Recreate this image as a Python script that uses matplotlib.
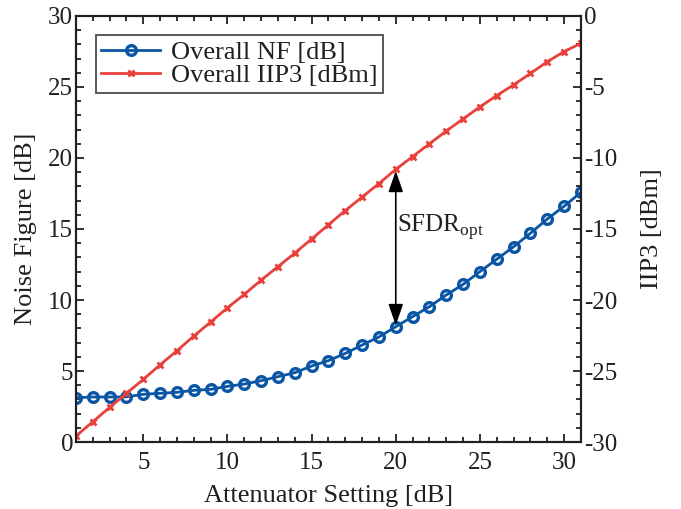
import numpy as np
import matplotlib.pyplot as plt
from matplotlib.ticker import MultipleLocator

plt.rcParams["font.family"] = ["Liberation Serif", "DejaVu Serif"]
plt.rcParams["mathtext.fontset"] = "custom"
plt.rcParams["mathtext.rm"] = "Liberation Serif"
plt.rcParams["axes.unicode_minus"] = False
plt.rcParams["text.color"] = "#231f20"
plt.rcParams["axes.labelcolor"] = "#231f20"

atten = list(range(1, 32))
nf = [3.12, 3.17, 3.17, 3.18, 3.36, 3.43, 3.5, 3.64, 3.71, 3.92,
      4.08, 4.32, 4.6, 4.88, 5.35, 5.73, 6.24, 6.83, 7.4, 8.12,
      8.83, 9.53, 10.35, 11.1, 12.0, 12.87, 13.75, 14.7, 15.7, 16.6, 17.58]
iip3 = [-29.58, -28.57, -27.56, -26.57, -25.59, -24.56, -23.57, -22.54, -21.55, -20.55,
        -19.6, -18.6, -17.65, -16.7, -15.7, -14.7, -13.7, -12.75, -11.8, -10.8,
        -9.9, -9.0, -8.1, -7.25, -6.4, -5.6, -4.85, -4.05, -3.22, -2.51, -1.92]

blue = "#0b56a4"
red = "#e8413c"
dark = "#231f20"

fig = plt.figure(figsize=(6.81, 5.09), dpi=100)
ax = fig.add_axes([0.1116, 0.1316, 0.7414, 0.837])
ax2 = ax.twinx()

l1, = ax.plot(atten, nf, color=blue, lw=2.0, marker="o", ms=7,
              mfc="none", mew=2.4, label="Overall NF [dB]")
l2, = ax2.plot(atten, iip3, color=red, lw=2.0, marker="x", ms=5,
               mew=2.0, label="Overall IIP3 [dBm]")

ax.set_xlim(1, 31)
ax.set_ylim(0, 30)
ax2.set_ylim(-30, 0)

ax.xaxis.set_major_locator(MultipleLocator(5))
ax.xaxis.set_minor_locator(MultipleLocator(1))
ax.yaxis.set_major_locator(MultipleLocator(5))
ax.yaxis.set_minor_locator(MultipleLocator(1))
ax2.yaxis.set_major_locator(MultipleLocator(5))
ax2.yaxis.set_minor_locator(MultipleLocator(1))

for a in (ax, ax2):
    for s in a.spines.values():
        s.set_linewidth(1.5)
        s.set_color(dark)
ax.tick_params(which="both", direction="in", top=True, right=False,
               labelsize=18, width=1.3, color=dark, labelcolor=dark)
ax.tick_params(axis="x", pad=7)
ax.tick_params(axis="y", pad=2)
ax.tick_params(which="major", length=5.5)
ax.tick_params(which="minor", length=3.5)
ax2.tick_params(which="both", direction="in", labelsize=18, width=1.3,
                color=dark, labelcolor=dark, pad=2)
ax2.tick_params(which="major", length=5.5)
ax2.tick_params(which="minor", length=3.5)

ax.set_xlabel("Attenuator Setting [dB]", fontsize=19, labelpad=8)
ax.set_ylabel("Noise Figure [dB]", fontsize=19, labelpad=8)
ax2.set_ylabel("IIP3 [dBm]", fontsize=19, labelpad=17)

# SFDR arrow at attenuator setting 20
ax.annotate("", xy=(20, nf[19] + 0.1), xytext=(20, iip3[19] + 30 - 0.1),
            arrowprops=dict(arrowstyle="<|-|>,head_length=1.3,head_width=0.45",
                            color="black", lw=1.2, shrinkA=0, shrinkB=0))
ax.text(20.1, 15.1, r"SFDR$_{\mathrm{opt}}$", fontsize=18, va="center", ha="left")

leg = ax.legend(handles=[l1, l2], loc="upper left", bbox_to_anchor=(0.04, 0.955),
                fontsize=19, frameon=True, fancybox=False, handlelength=2.2,
                borderpad=0.2, labelspacing=0.0, handletextpad=0.45,
                borderaxespad=0.0)
leg.get_frame().set_edgecolor(dark)
leg.get_frame().set_linewidth(1.3)

fig.savefig("out.png", dpi=100)
